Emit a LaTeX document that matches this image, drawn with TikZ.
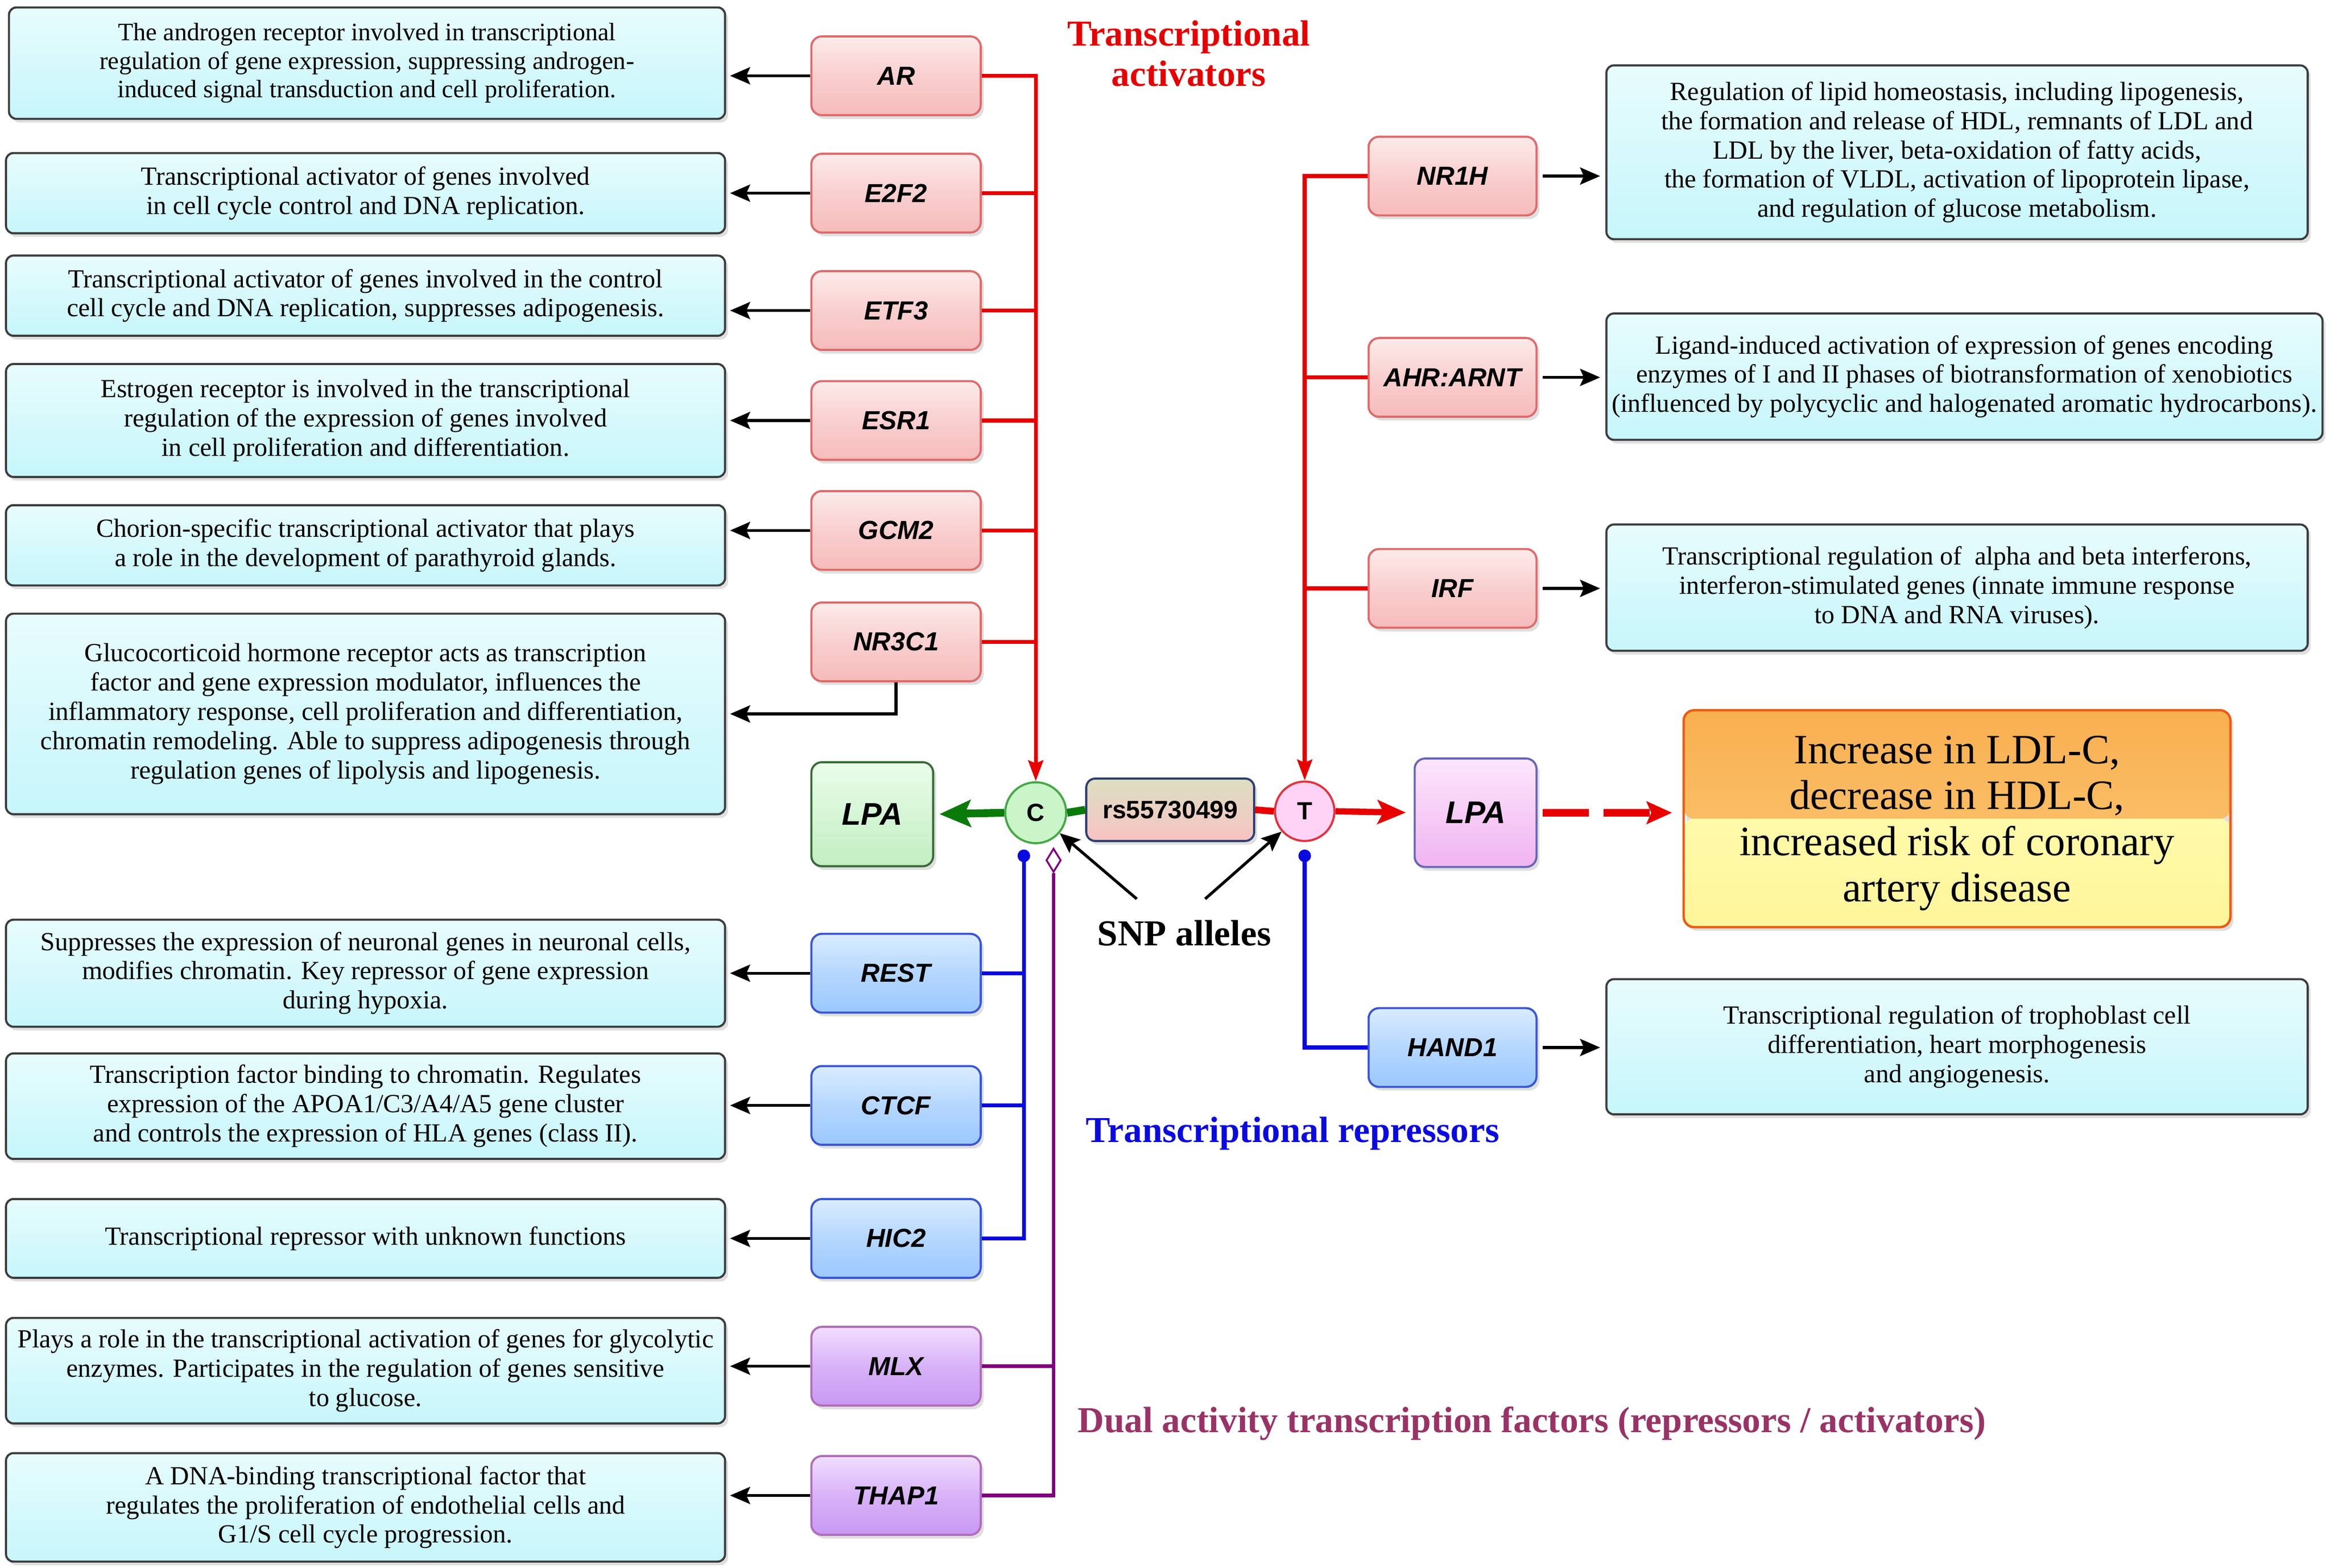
\documentclass[tikz,border=0pt]{standalone}
\usepackage{fontspec}
\setmainfont{Liberation Serif}
\newfontfamily\descfont{Liberation Serif}
\newfontfamily\genefont{Liberation Sans}
\usetikzlibrary{arrows.meta,shapes.geometric,shadows}
\definecolor{descTop}{HTML}{E8FCFD}
\definecolor{descBot}{HTML}{C6F6FB}
\definecolor{descLine}{HTML}{3C3C3C}
\definecolor{rTop}{HTML}{FDEBEB}
\definecolor{rMid}{HTML}{F9CFCF}
\definecolor{rBot}{HTML}{F6BBBB}
\definecolor{rLine}{HTML}{E06A6A}
\definecolor{bTop}{HTML}{DAECFF}
\definecolor{bMid}{HTML}{B5D7FF}
\definecolor{bBot}{HTML}{9BC8FF}
\definecolor{bLine}{HTML}{3A55D8}
\definecolor{pTop}{HTML}{F1DEFF}
\definecolor{pMid}{HTML}{D8B2F8}
\definecolor{pBot}{HTML}{C898F3}
\definecolor{pLine}{HTML}{B06EB8}
\definecolor{actRed}{HTML}{E60000}
\definecolor{repBlue}{HTML}{0A0AE0}
\definecolor{dualPurple}{HTML}{800080}
\definecolor{dualText}{HTML}{993366}
\definecolor{darkGreen}{HTML}{0A7A0A}
\definecolor{gTop}{HTML}{EAFDEA}
\definecolor{gBot}{HTML}{C2EEC2}
\definecolor{gLine}{HTML}{3A6B3A}
\definecolor{kTop}{HTML}{FCE6FC}
\definecolor{kBot}{HTML}{F1B4F1}
\definecolor{kLine}{HTML}{6666B8}
\definecolor{rsTop}{HTML}{DCDFC2}
\definecolor{rsBot}{HTML}{F8C3C3}
\definecolor{rsLine}{HTML}{2E3F70}
\definecolor{cFill}{HTML}{C9F5C9}
\definecolor{cLine}{HTML}{45A845}
\definecolor{tFill}{HTML}{FFD3F6}
\definecolor{tLine}{HTML}{E2323C}
\definecolor{oTop}{HTML}{F9AF50}
\definecolor{oMid}{HTML}{FBCB7A}
\definecolor{oBotA}{HTML}{FFFAAA}
\definecolor{oBotB}{HTML}{FFF59A}
\definecolor{oLine}{HTML}{EE5A14}
\tikzset{
  shad/.style={drop shadow={shadow xshift=0.04cm,shadow yshift=-0.05cm,opacity=0.25}},
  desc/.style={draw=descLine, line width=0.8pt, rounded corners=0.1cm, top color=descTop, bottom color=descBot, shad,
    font=\descfont\fontsize{10}{11.2}\selectfont, align=center, inner sep=0pt},
  gene/.style={rounded corners=0.14cm, minimum height=1.06cm, line width=0.8pt, shad,
    font=\genefont\bfseries\itshape\fontsize{10}{12}\selectfont, inner sep=0pt},
  redgene/.style={gene, minimum width=2.28cm, draw=rLine, top color=rTop, bottom color=rBot, middle color=rMid},
  bluegene/.style={gene, minimum width=2.28cm, draw=bLine, top color=bTop, bottom color=bBot, middle color=bMid},
  purpgene/.style={gene, minimum width=2.28cm, draw=pLine, top color=pTop, bottom color=pBot, middle color=pMid},
  blk/.style={draw=black, line width=1.1pt, -{Stealth[length=0.27cm,width=0.23cm,inset=0.05cm]}},
  redbus/.style={draw=actRed, line width=1.5pt},
  redtip/.style={-{Stealth[length=0.28cm,width=0.2cm,inset=0.04cm]}},
  bluebus/.style={draw=repBlue, line width=1.5pt},
  purpbus/.style={draw=dualPurple, line width=1.4pt},
  allele/.style={circle, inner sep=0pt, minimum size=0.82cm, line width=0.8pt,
    font=\genefont\bfseries\fontsize{9.5}{10}\selectfont},
  title/.style={font=\descfont\bfseries\fontsize{14}{15.4}\selectfont, align=center, inner sep=0pt}
}
\begin{document}
\begin{tikzpicture}[x=0.02cm,y=-0.02cm]
\useasboundingbox (0,0) rectangle (1568,1055);
\fill[white] (0,0) rectangle (1568,1055);

% ---------- left description boxes ----------
\node[desc, minimum width=9.64cm, minimum height=1.5cm, font=\descfont\fontsize{9.6}{10.9}\selectfont] (dAR) at (247,42.5)
 {The androgen receptor involved in transcriptional\\regulation of gene expression, suppressing androgen-\\induced signal transduction and cell proliferation.};
\node[desc, minimum width=9.68cm, minimum height=1.08cm] (dE2F2) at (246,130)
 {Transcriptional activator of genes involved\\in cell cycle control and DNA replication.};
\node[desc, minimum width=9.68cm, minimum height=1.08cm] (dETF3) at (246,199)
 {Transcriptional activator of genes involved in the control\\cell cycle and DNA replication, suppresses adipogenesis.};
\node[desc, minimum width=9.68cm, minimum height=1.52cm] (dESR1) at (246,283)
 {Estrogen receptor is involved in the transcriptional\\regulation of the expression of genes involved\\in cell proliferation and differentiation.};
\node[desc, minimum width=9.68cm, minimum height=1.08cm] (dGCM2) at (246,367)
 {Chorion-specific transcriptional activator that plays\\a role in the development of parathyroid glands.};
\node[desc, minimum width=9.68cm, minimum height=2.7cm] (dNR3C1) at (246,480.5)
 {Glucocorticoid hormone receptor acts as transcription\\factor and gene expression modulator, influences the\\inflammatory response, cell proliferation and differentiation,\\chromatin remodeling. Able to suppress adipogenesis through\\regulation genes of lipolysis and lipogenesis.};
\node[desc, minimum width=9.68cm, minimum height=1.44cm] (dREST) at (246,655)
 {Suppresses the expression of neuronal genes in neuronal cells,\\modifies chromatin. Key repressor of gene expression\\during hypoxia.};
\node[desc, minimum width=9.68cm, minimum height=1.42cm] (dCTCF) at (246,744.5)
 {Transcription factor binding to chromatin. Regulates\\expression of the APOA1/C3/A4/A5 gene cluster\\and controls the expression of HLA genes (class II).};
\node[desc, minimum width=9.68cm, minimum height=1.06cm] (dHIC2) at (246,833.5)
 {Transcriptional repressor with unknown functions};
\node[desc, minimum width=9.68cm, minimum height=1.42cm] (dMLX) at (246,922.5)
 {Plays a role in the transcriptional activation of genes for glycolytic\\enzymes. Participates in the regulation of genes sensitive\\to glucose.};
\node[desc, minimum width=9.68cm, minimum height=1.46cm] (dTHAP1) at (246,1014.5)
 {A DNA-binding transcriptional factor that\\regulates the proliferation of endothelial cells and\\G1/S cell cycle progression.};

% ---------- left gene boxes ----------
\node[redgene] (gAR) at (603,51) {AR};
\node[redgene] (gE2F2) at (603,130) {E2F2};
\node[redgene] (gETF3) at (603,209) {ETF3};
\node[redgene] (gESR1) at (603,283) {ESR1};
\node[redgene] (gGCM2) at (603,357) {GCM2};
\node[redgene] (gNR3C1) at (603,432) {NR3C1};
\node[bluegene] (gREST) at (603,655) {REST};
\node[bluegene] (gCTCF) at (603,744) {CTCF};
\node[bluegene] (gHIC2) at (603,833.5) {HIC2};
\node[purpgene] (gMLX) at (603,919.5) {MLX};
\node[purpgene] (gTHAP1) at (603,1006.5) {THAP1};

% ---------- right gene boxes ----------
\node[redgene, minimum width=2.26cm] (gNR1H) at (977.5,118.5) {NR1H};
\node[redgene, minimum width=2.26cm] (gAHR) at (977.5,254) {AHR:ARNT};
\node[redgene, minimum width=2.26cm] (gIRF) at (977.5,396) {IRF};
\node[bluegene, minimum width=2.26cm] (gHAND1) at (977.5,705) {HAND1};

% ---------- right description boxes ----------
\node[desc, minimum width=9.44cm, minimum height=2.34cm] (dNR1H) at (1317,102.5)
 {Regulation of lipid homeostasis, including lipogenesis,\\the formation and release of HDL, remnants of LDL and\\LDL by the liver, beta-oxidation of fatty acids,\\the formation of VLDL, activation of lipoprotein lipase,\\and regulation of glucose metabolism.};
\node[desc, minimum width=9.64cm, minimum height=1.7cm] (dAHR) at (1322,253.5)
 {Ligand-induced activation of expression of genes encoding\\enzymes of I and II phases of biotransformation of xenobiotics\\(influenced by polycyclic and halogenated aromatic hydrocarbons).};
\node[desc, minimum width=9.44cm, minimum height=1.7cm] (dIRF) at (1317,395.5)
 {Transcriptional regulation of \ alpha and beta interferons,\\interferon-stimulated genes (innate immune response\\to DNA and RNA viruses).};
\node[desc, minimum width=9.44cm, minimum height=1.82cm] (dHAND1) at (1317,704.5)
 {Transcriptional regulation of trophoblast cell\\differentiation, heart morphogenesis\\and angiogenesis.};

% ---------- central row ----------
\node[allele, draw=cLine, fill=cFill] (C) at (697,547) {C};
\node[allele, draw=tLine, fill=tFill, minimum size=0.8cm] (T) at (878,546) {T};
\node[rounded corners=0.12cm, draw=rsLine, line width=0.8pt, top color=rsTop, bottom color=rsBot, shad,
  minimum width=2.26cm, minimum height=0.84cm, inner sep=0pt,
  font=\genefont\bfseries\fontsize{9.6}{11}\selectfont] (rs) at (787.5,545) {rs55730499};
\node[rounded corners=0.14cm, draw=gLine, line width=0.8pt, top color=gTop, bottom color=gBot, shad,
  minimum width=1.64cm, minimum height=1.4cm, inner sep=0pt,
  font=\genefont\bfseries\itshape\fontsize{12}{14}\selectfont] (LPAg) at (587,548) {LPA};
\node[rounded corners=0.14cm, draw=kLine, line width=0.8pt, top color=kTop, bottom color=kBot, shad,
  minimum width=1.64cm, minimum height=1.46cm, inner sep=0pt,
  font=\genefont\bfseries\itshape\fontsize{12}{14}\selectfont] (LPAp) at (993,547) {LPA};
\node[rounded corners=0.14cm, draw=oLine, line width=0.9pt, shad,
  minimum width=7.36cm, minimum height=2.92cm, inner sep=0pt,
  path picture={
    \shade[top color=oTop, bottom color=oMid] (path picture bounding box.north west) rectangle (path picture bounding box.east);
    \shade[top color=oBotA, bottom color=oBotB] (path picture bounding box.west) rectangle (path picture bounding box.south east);
  }] (out) at (1317,551) {};
\node[align=center, inner sep=0pt, font=\descfont\fontsize{16}{17.6}\selectfont] (outtext) at ([yshift=-0.06cm]out.center)
 {Increase in LDL-C,\\decrease in HDL-C,\\increased risk of coronary\\artery disease};

% dot and diamond ends
\node[circle, fill=repBlue, inner sep=0pt, minimum size=0.17cm] (bdotC) at (689,576) {};
\node[circle, fill=repBlue, inner sep=0pt, minimum size=0.17cm] (bdotT) at (878,576) {};
\node[diamond, draw=dualPurple, fill=white, line width=0.7pt, inner sep=0pt,
  minimum width=0.2cm, minimum height=0.32cm] (pdia) at (709,579) {};

% ---------- titles ----------
\node[title, text=actRed] (tAct) at (800,36) {Transcriptional\\activators};
\node[title, text=repBlue] (tRep) at (870,763) {Transcriptional repressors};
\node[title, text=dualText] (tDual) at (1031,958) {Dual activity transcription factors (repressors / activators)};
\node[title] (snp) at (797,628) {SNP alleles};
\coordinate (snpL) at (765,605);
\coordinate (snpR) at (811,605);

% ---------- connectors: left activators ----------
\draw[redbus, redtip] (gAR.east) -| (C.north);
\foreach \g in {gE2F2,gETF3,gESR1,gGCM2,gNR3C1}
  \draw[redbus] (\g.east) -- (\g.east -| C.north);
% repressors
\draw[bluebus] (gHIC2.east) -| (bdotC.center);
\foreach \g in {gREST,gCTCF}
  \draw[bluebus] (\g.east) -- (\g.east -| bdotC.center);
% dual
\draw[purpbus] (gTHAP1.east) -| (pdia.south);
\draw[purpbus] (gMLX.east) -- (gMLX.east -| pdia.south);

% right side
\draw[redbus, redtip] (gNR1H.west) -| (T.north);
\foreach \g in {gAHR,gIRF}
  \draw[redbus] (\g.west) -- (\g.west -| T.north);
\draw[bluebus] (gHAND1.west) -| (bdotT.center);

% black arrows to descriptions
\foreach \g/\d in {gAR/dAR,gE2F2/dE2F2,gETF3/dETF3,gESR1/dESR1,gGCM2/dGCM2,gREST/dREST,gCTCF/dCTCF,gHIC2/dHIC2,gMLX/dMLX,gTHAP1/dTHAP1}
  \draw[blk, shorten >=1.5pt] (\g.west) -- (\g.west -| \d.east);
\draw[blk, shorten >=1.5pt] (gNR3C1.south) |- (dNR3C1.east);
\foreach \g/\d in {gNR1H/dNR1H,gAHR/dAHR,gIRF/dIRF,gHAND1/dHAND1}
  \draw[blk, shorten <=2pt, shorten >=2pt] (\g.east) -- (\g.east -| \d.west);

% central arrows
\draw[draw=darkGreen, line width=3pt, -{Stealth[length=0.42cm,width=0.36cm,inset=0.08cm]}, shorten >=2pt] (C.west) -- (LPAg.east);
\draw[draw=darkGreen, line width=3pt] (C.east) -- (rs.west);
\draw[draw=actRed, line width=2.6pt] (rs.east) -- (T.west);
\draw[draw=actRed, line width=2.4pt, -{Stealth[length=0.38cm,width=0.32cm,inset=0.08cm]}, shorten >=3pt] (T.east) -- (LPAp.west);
\draw[draw=actRed, line width=2.8pt, dash pattern=on 0.62cm off 0.2cm, -{Stealth[length=0.34cm,width=0.3cm,inset=0.06cm]}, shorten <=2pt, shorten >=4pt] (LPAp.east) -- (out.west |- LPAp.east);
\draw[blk] (snpL) -- (C);
\draw[blk] (snpR) -- (T);
\end{tikzpicture}
\end{document}
